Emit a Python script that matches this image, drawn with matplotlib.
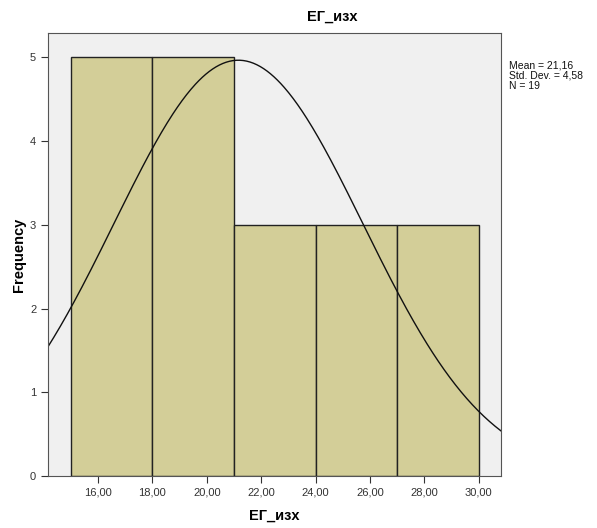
import numpy as np
import matplotlib
matplotlib.use('Agg')
import matplotlib.pyplot as plt

# данные гистограммы
bin_edges = [15, 18, 21, 24, 27, 30]
counts = [5, 5, 3, 3, 3]
mean = 21.16
std = 4.58
n = 19
x_ticks = [16, 18, 20, 22, 24, 26, 28, 30]
y_ticks = [0, 1, 2, 3, 4, 5]

plt.rcParams['font.family'] = ['Liberation Sans', 'DejaVu Sans']

fig = plt.figure(figsize=(5.97, 5.28), dpi=100)
ax = fig.add_axes([0.0804, 0.0985, 0.7586, 0.839])
ax.set_facecolor('#f0f0f0')

lefts = bin_edges[:-1]
widths = np.diff(bin_edges)
ax.bar(lefts, counts, width=widths, align='edge', color='#d3ce98',
       edgecolor='#222222', linewidth=1.0)

# нормальная кривая
xs = np.linspace(14.16, 30.81, 400)
bw = widths[0]
ys = n * bw / (std * np.sqrt(2 * np.pi)) * np.exp(-0.5 * ((xs - mean) / std) ** 2)
ax.plot(xs, ys, color='#111111', linewidth=1.0)

ax.set_xlim(14.16, 30.81)
ax.set_ylim(0, 5.29)
ax.set_xticks(x_ticks)
ax.set_xticklabels([f'{v:.2f}'.replace('.', ',') for v in x_ticks])
ax.set_yticks(y_ticks)
ax.tick_params(axis='both', labelsize=8, length=5, color='#333333', labelcolor='#333333')
for s in ax.spines.values():
    s.set_color('#555555')

fig.text(332 / 597, 1 - 17 / 528, 'ЕГ_изх', fontsize=10.5, fontweight='bold',
         ha='center', va='center')
ax.set_xlabel('ЕГ_изх', fontsize=10.5, fontweight='bold', labelpad=8)
ax.set_ylabel('Frequency', fontsize=10.5, fontweight='bold', labelpad=3)

stats = f'Mean = {mean:.2f}\nStd. Dev. = {std:.2f}\nN = {n}'.replace('.', ',').replace('Std, Dev,', 'Std. Dev.')
fig.text(509 / 597, 1 - 61 / 528, stats, fontsize=7.5, va='top', ha='left',
         linespacing=1.0, color='#111111')

fig.savefig('out.png', dpi=100)
